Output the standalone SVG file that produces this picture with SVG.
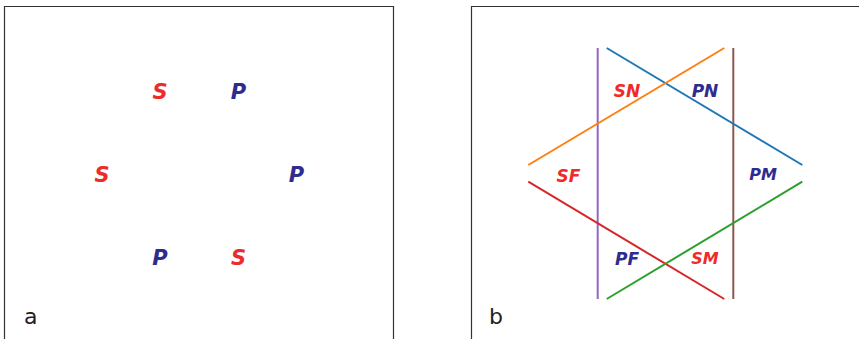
<svg xmlns="http://www.w3.org/2000/svg" width="859" height="339" viewBox="0 0 859 339">
<style>
.frame{fill:none;stroke:#333;stroke-width:1.2}
.lbl{font-family:"DejaVu Sans",sans-serif;font-weight:bold;font-style:italic;text-anchor:middle}
.s{fill:#ee2b2b}
.p{fill:#2e2d8f}
.big{font-size:21px}
.mid{font-size:17px}
.sm{font-size:16px}
.tag{font-family:"DejaVu Sans",sans-serif;font-size:22px;fill:#222}
.ln{stroke-width:2;fill:none}
</style>
<rect width="859" height="339" fill="#fff"/>
<g id="panel-a">
<path class="frame" d="M4.5,339 V6.5 H393.5 V339"/>
<g id="a-s1"><text class="lbl big s" x="160" y="98.5">S</text></g>
<g id="a-p1"><text class="lbl big p" x="238.5" y="98.5">P</text></g>
<g id="a-s2"><text class="lbl big s" x="102" y="182">S</text></g>
<g id="a-p2"><text class="lbl big p" x="296.5" y="182">P</text></g>
<g id="a-p3"><text class="lbl big p" x="160" y="265">P</text></g>
<g id="a-s3"><text class="lbl big s" x="238.5" y="265">S</text></g>
<text class="tag" x="24" y="324">a</text>
</g>
<g id="panel-b">
<path class="frame" d="M471.5,339 V6.5 H859"/>
<g id="connectors">
<line class="ln" stroke="#9467bd" x1="597.7" y1="48" x2="597.7" y2="299"/>
<line class="ln" stroke="#8c564b" x1="733.3" y1="48" x2="733.3" y2="299"/>
<line class="ln" stroke="#1f77b4" x1="606.7" y1="48" x2="802.3" y2="165"/>
<line class="ln" stroke="#ff7f0e" x1="528.3" y1="165" x2="724.3" y2="48"/>
<line class="ln" stroke="#d62728" x1="528.3" y1="181.7" x2="724.3" y2="299"/>
<line class="ln" stroke="#2ca02c" x1="606.7" y1="299" x2="802.3" y2="181.7"/>
</g>
<g id="b-sn"><text class="lbl mid s" x="627" y="97">SN</text></g>
<g id="b-pn"><text class="lbl mid p" x="705" y="97">PN</text></g>
<g id="b-sf"><text class="lbl mid s" x="568.5" y="181.5">SF</text></g>
<g id="b-pm"><text class="lbl sm p" x="763" y="180">PM</text></g>
<g id="b-pf"><text class="lbl mid p" x="627" y="265">PF</text></g>
<g id="b-sm"><text class="lbl sm s" x="705" y="264">SM</text></g>
<text class="tag" x="489" y="324">b</text>
</g>
</svg>
